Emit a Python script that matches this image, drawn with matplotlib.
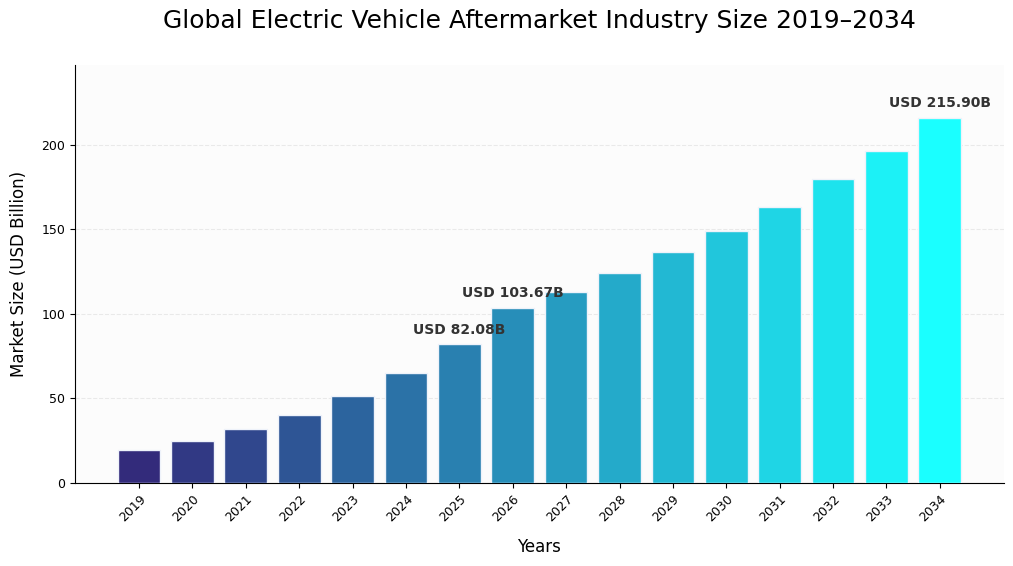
import numpy as np
import matplotlib.pyplot as plt
from matplotlib.colors import LinearSegmentedColormap

years = [str(y) for y in range(2019, 2035)]
market_size = [19.7, 25.0, 32.1, 40.4, 51.1, 64.7, 82.08, 103.67,
               113.2, 123.9, 136.3, 149.3, 163.3, 179.5, 196.4, 215.90]
labeled_years = ['2025', '2026', '2034']

cmap = LinearSegmentedColormap.from_list('ev', ['#332b7b', '#1affff'])
colors = cmap(np.linspace(0, 1, len(years)))

fig, ax = plt.subplots(figsize=(10.13, 5.66), dpi=100)
ax.set_facecolor('#fcfcfc')

x = np.arange(len(years))
bars = ax.bar(x, market_size, width=0.8, color=colors,
              edgecolor='#eef2fa', linewidth=1, zorder=3)

# annotate selected bars
for i, (yr, val) in enumerate(zip(years, market_size)):
    if yr in labeled_years:
        ax.text(i, val + 4.5, f"USD {val:.2f}B", ha='center', va='bottom',
                fontsize=10, fontweight='bold', color='#333333', zorder=4)

ax.set_xticks(x)
ax.set_xticklabels(years, rotation=45, ha='right', rotation_mode='anchor', fontsize=9)
ax.tick_params(axis='y', labelsize=9)
ax.set_xlim(-1.2, len(years) + 0.2)
ax.set_ylim(0, max(market_size) * 1.145)
ax.set_yticks([0, 50, 100, 150, 200])

ax.grid(axis='y', linestyle='--', color='#dddddd', alpha=0.6, zorder=0)
ax.spines['top'].set_visible(False)
ax.spines['right'].set_visible(False)

ax.set_xlabel("Years", fontsize=12, labelpad=10)
ax.set_ylabel("Market Size (USD Billion)", fontsize=12, labelpad=9.5)
ax.set_title("Global Electric Vehicle Aftermarket Industry Size 2019\u20132034",
             fontsize=18, pad=27)

fig.subplots_adjust(left=0.074, right=0.991, top=0.885, bottom=0.147)
plt.savefig('out.png', dpi=100)
